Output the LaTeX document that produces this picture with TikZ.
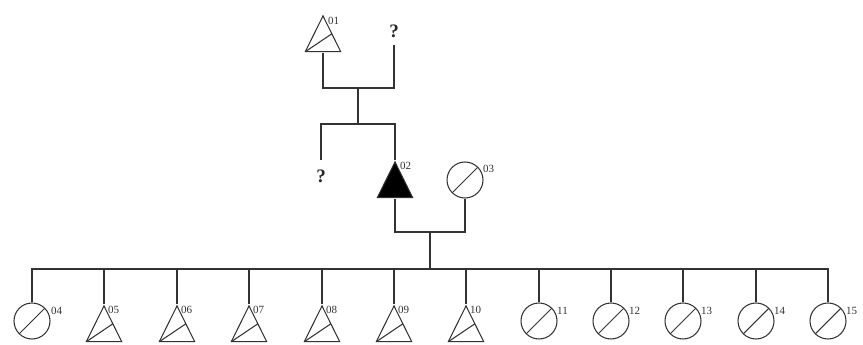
\documentclass[tikz,border=0pt]{standalone}
\usepackage{fontspec}
\setmainfont{Liberation Serif}
\usetikzlibrary{calc}
\begin{document}
\begin{tikzpicture}[x=1pt,y=-1pt,
  ink/.style={draw=black!80, line width=1.05pt},
  female/.style={circle, ink, minimum size=36pt, inner sep=0pt,
    path picture={\draw[ink] (path picture bounding box.south west) -- (path picture bounding box.north east);}},
  trishape/.style={rectangle, minimum width=37pt, minimum height=38pt, inner sep=0pt},
  male/.style={trishape,
    path picture={
      \path (path picture bounding box.south west) ++(0.8pt,0.8pt) coordinate (tA)
            (path picture bounding box.north) ++(0pt,-1.4pt) coordinate (tB)
            (path picture bounding box.south east) ++(-0.8pt,0.8pt) coordinate (tC);
      \draw[ink, line join=miter] (tA) -- (tB) -- (tC) -- cycle;
      \draw[ink] (tA) -- ($(tB)!0.5!(tC)$);}},
  affected/.style={trishape,
    path picture={
      \path (path picture bounding box.south west) ++(0.8pt,0.8pt) coordinate (tA)
            (path picture bounding box.north) ++(0pt,-1.4pt) coordinate (tB)
            (path picture bounding box.south east) ++(-0.8pt,0.8pt) coordinate (tC);
      \filldraw[ink, fill=black, line join=miter] (tA) -- (tB) -- (tC) -- cycle;}},
  lab/.style={font=\fontsize{11}{11}\selectfont, inner sep=0pt, anchor=west, text=black!80},
  qmark/.style={font=\fontsize{19}{19}\selectfont\bfseries, inner sep=0pt, text=black!85}
]
\useasboundingbox (0,0) rectangle (863,345);

% generation I
\node[male] (p01) at (323,33.5) {};
\node[qmark] (q1) at (394,31) {?};
\coordinate (m1) at (358,88);
\coordinate (s1) at (358,124);

% generation II
\node[qmark] (q2) at (321,176) {?};
\node[affected] (p02) at (395,179.5) {};
\node[female] (p03) at (465,180) {};
\coordinate (m2) at (430,232);
\coordinate (s2) at (430,269);

% generation III
\node[female] (p04) at (32,321) {};
\node[male] (p05) at (104,323.5) {};
\node[male] (p06) at (177,323.5) {};
\node[male] (p07) at (249,323.5) {};
\node[male] (p08) at (322,323.5) {};
\node[male] (p09) at (394,323.5) {};
\node[male] (p10) at (466,323.5) {};
\node[female] (p11) at (539,321) {};
\node[female] (p12) at (611,321) {};
\node[female] (p13) at (683,321) {};
\node[female] (p14) at (756,321) {};
\node[female] (p15) at (828,321) {};

% identifiers
\node[lab] (l01) at ([xshift=5pt,yshift=-7pt]p01.north) {01};
\node[lab] (l02) at ([xshift=5pt,yshift=-6pt]p02.north) {02};
\node[lab] (l03) at ([xshift=18pt,yshift=11pt]p03.center) {03};
\node[lab] (l04) at ([xshift=19pt,yshift=10pt]p04.center) {04};
\foreach \i in {05,06,07,08,09,10}
  \node[lab] (l\i) at ([xshift=4pt,yshift=-6pt]p\i.north) {\i};
\foreach \i in {11,12,13,14,15}
  \node[lab] (l\i) at ([xshift=18pt,yshift=10pt]p\i.center) {\i};

% connectors
\draw[ink] (p01.south) |- (m1) -| ([yshift=-7pt]q1.south);
\draw[ink] (m1) -- (s1);
\draw[ink] ([yshift=9pt]q2.north) |- (s1) -| (p02.north);
\draw[ink] (p02.south) |- (m2) -| (p03.south);
\draw[ink] (m2) -- (s2);
\draw[ink] (p04.north) |- (s2) -| (p15.north);
\foreach \i in {05,06,07,08,09,10,11,12,13,14}
  \draw[ink] (p\i.north) -- (p\i.north |- s2);
\end{tikzpicture}
\end{document}
